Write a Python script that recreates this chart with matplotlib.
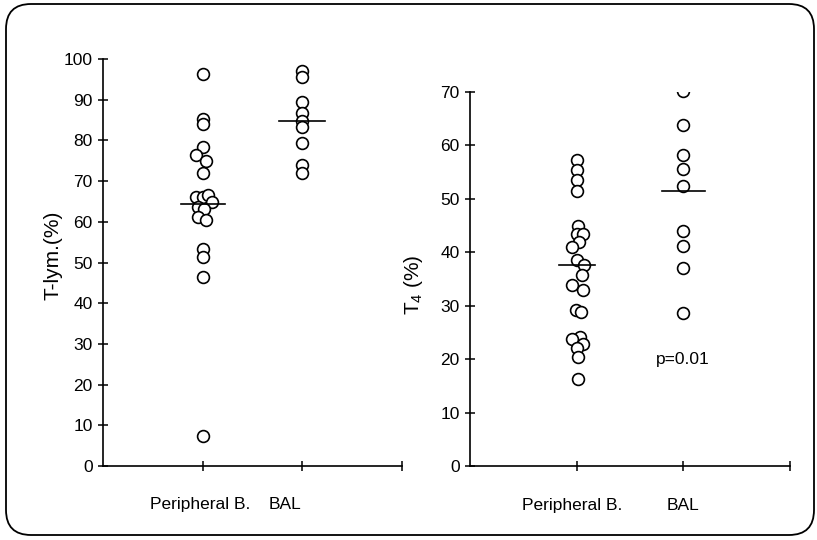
import matplotlib
matplotlib.use("Agg")
import matplotlib.pyplot as plt
from matplotlib.patches import FancyBboxPatch

plt.rcParams["font.family"] = ["Liberation Sans", "DejaVu Sans"]
plt.rcParams["mathtext.default"] = "regular"

# T-lymphocytes (%)
tlym_pb = [96.2, 85.2, 84.0, 78.5, 76.3, 75.0, 72.1, 66.2, 66.2, 66.6,
           64.9, 63.7, 63.1, 61.3, 60.4, 53.2, 51.3, 46.5, 7.4]
tlym_pb_dx = [0, 0, 0, 0, -0.07, 0.03, 0, -0.07, 0, 0.05,
              0.09, -0.05, 0.01, -0.05, 0.03, 0, 0, 0, 0]
tlym_bal = [97.0, 95.7, 89.4, 86.8, 84.8, 83.2, 79.4, 74.0, 72.1]
tlym_means = [64.3, 84.8]

# T4 (%)
t4_pb = [57.3, 55.4, 53.5, 51.5, 44.9, 43.5, 43.4, 42.0, 41.0, 38.6,
         37.6, 35.8, 33.9, 32.9, 29.2, 28.9, 24.1, 23.7, 22.8, 22.1,
         20.5, 16.4]
t4_pb_dx = [0, 0, 0, 0, 0.01, 0, 0.06, 0.02, -0.04, 0,
            0.07, 0.05, -0.04, 0.06, -0.01, 0.04, 0.03, -0.04, 0.06, 0,
            0.01, 0.01]
t4_bal = [70.2, 63.8, 58.2, 55.5, 52.3, 44.0, 41.2, 37.0, 28.7]
t4_means = [37.6, 51.5]

groups = ["Peripheral B.", "BAL"]

fig = plt.figure(figsize=(8.17, 5.40), dpi=100)
ax1 = fig.add_axes([0.1261, 0.137, 0.366, 0.7537])
ax2 = fig.add_axes([0.5753, 0.1365, 0.3917, 0.6935])

mk = dict(marker="o", ls="none", ms=8.5, mfc="white", mec="black", mew=1.2, zorder=3)


def panel(ax, pb, pb_dx, bal, means, ymax, ylabel, label_x, label_y, label_pos, mean_w):
    ax.plot([1 + d for d in pb_dx], pb, **mk)
    ax.plot([2] * len(bal), bal, **mk)
    for x, m, w in zip([1, 2], means, mean_w):
        ax.plot([x - w, x + w], [m, m], color="black", lw=1.2, zorder=4)
    ax.set_xlim(0, 3)
    ax.set_ylim(0, ymax)
    ax.set_yticks(range(0, ymax + 1, 10))
    ax.set_xticks([1, 2, 3])
    ax.set_xticklabels([])
    for s in ["top", "right"]:
        ax.spines[s].set_visible(False)
    for s in ["left", "bottom"]:
        ax.spines[s].set_linewidth(1.2)
    ax.tick_params(direction="inout", length=7, width=1.1, labelsize=12.5, pad=4)
    ax.set_ylabel(ylabel, fontsize=15)
    ax.yaxis.set_label_coords(label_x, label_y)
    for g, x in zip(groups, label_pos):
        ax.annotate(g, xy=(x, 0), xytext=(0, -28), textcoords="offset points",
                    ha="center", va="center", fontsize=12.5, annotation_clip=False)


panel(ax1, tlym_pb, tlym_pb_dx, tlym_bal, tlym_means, 100, "T-lym.(%)",
      -0.134, 0.518, [0.97, 1.83], [0.22, 0.23])
panel(ax2, t4_pb, t4_pb_dx, t4_bal, t4_means, 70, "T$_4$ (%)",
      -0.14, 0.486, [0.96, 2.0], [0.17, 0.2])

ax2.text(1.99, 20, "p=0.01", ha="center", va="center", fontsize=12.5)

border = FancyBboxPatch((0.06, 0.05), 8.08, 5.31,
                        boxstyle="round,pad=0,rounding_size=0.25",
                        transform=fig.dpi_scale_trans, fill=False,
                        edgecolor="black", lw=1.3)
fig.add_artist(border)

fig.savefig("out.png", dpi=100)
